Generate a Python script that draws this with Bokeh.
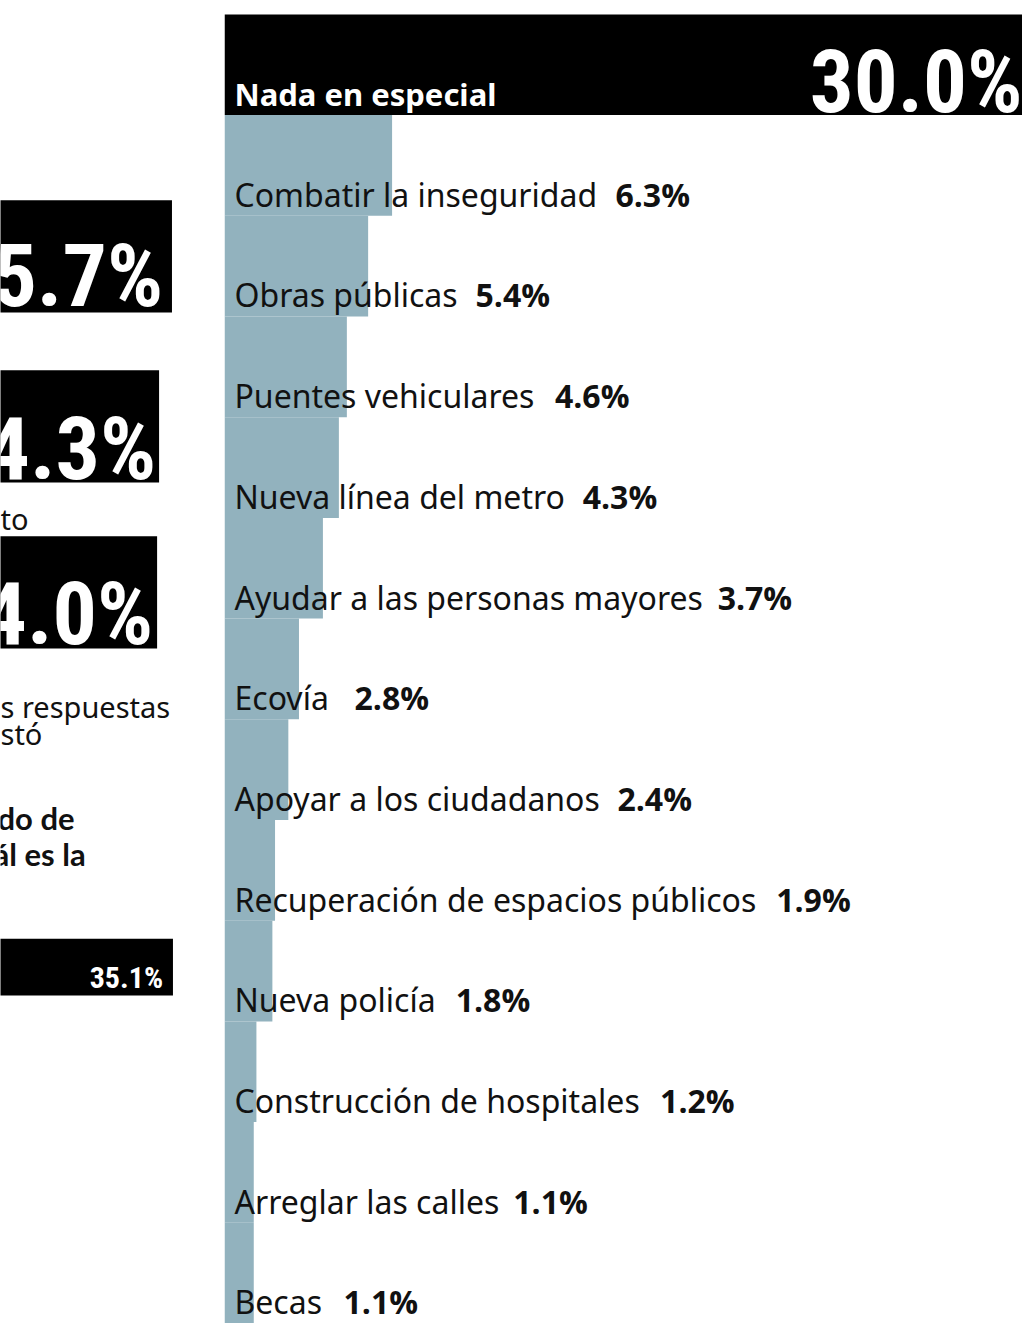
from bokeh.plotting import figure
from bokeh.layouts import row
from bokeh.models import Range1d, ColumnDataSource
from bokeh.core.properties import value
from bokeh.embed import file_html
from bokeh.resources import INLINE

# ---------------- data ----------------
labels = ["Nada en especial", "Combatir la inseguridad", "Obras públicas",
          "Puentes vehiculares", "Nueva línea del metro",
          "Ayudar a las personas mayores", "Ecovía", "Apoyar a los ciudadanos",
          "Recuperación de espacios públicos", "Nueva policía",
          "Construcción de hospitales", "Arreglar las calles", "Becas"]
values = [30.0, 6.3, 5.4, 4.6, 4.3, 3.7, 2.8, 2.4, 1.9, 1.8, 1.2, 1.1, 1.1]

# left (cropped) panel
left_numbers = ["45.7%", "44.3%", "44.0%"]
left_bar_label = ["35.1%"]
left_fragments_regular = ["to", "s respuestas", "stó"]
left_fragments_bold = ["do de", "ál es la"]

# ---------------- layout constants (reference pixels) ----------------
value_label_offset_px = [0, 394, 253, 333, 361, 497, 131, 396, 556, 233, 439, 291, 120]

SANS = "Noto Sans"
COND = "Roboto Condensed"
BAR = "#92b2be"

W, H = 1022, 1323
WL = 224
WR = W - WL
SX = W / 1030
BAND_TOP = 14 / 101.3

# ---------------- right figure ----------------
n = len(labels)
p = figure(width=WR, height=H, output_backend="svg", toolbar_location=None,
           x_range=Range1d(0, values[0]), y_range=Range1d(n, -BAND_TOP),
           min_border=0)
p.axis.visible = False
p.grid.visible = False
p.outline_line_color = None
p.background_fill_color = "white"

idx = list(range(n))
colors = ["black"] + [BAR] * (n - 1)
src = ColumnDataSource(dict(y=[i + 0.5 for i in idx], right=values, color=colors))
p.hbar(y="y", left=0, right="right", height=1.0, color="color", line_color=None, source=src)

rest = ColumnDataSource(dict(ty=[i + 0.915 for i in idx[1:]], label=labels[1:],
                             val=[f"{v:.1f}%" for v in values[1:]],
                             voff=[o * SX for o in value_label_offset_px[1:]]))
p.text(x=0, y="ty", text="label", source=rest, x_offset=10, y_offset=-13,
       text_font=value(SANS), text_font_size="32px", text_color="#111111",
       text_baseline="alphabetic")
p.text(x=0, y="ty", text="val", source=rest, x_offset="voff", y_offset=-13,
       text_font=value("Open Sans"), text_font_style="bold", text_font_size="32px",
       text_color="#111111", text_baseline="alphabetic")

p.text(x=[0], y=[0.92], text=[labels[0]], x_offset=10, y_offset=-13,
       text_font=value(SANS), text_font_style="bold", text_font_size="31px",
       text_color="white", text_baseline="alphabetic")
p.text(x=[values[0]], y=[0.93], text=[f"{values[0]:.1f}%"], x_offset=0, y_offset=-26,
       text_font=value(COND), text_font_style="bold",
       text_font_size="87px", text_color="white", text_align="right",
       text_baseline="alphabetic")

# ---------------- left (cropped) figure ----------------
q = figure(width=WL, height=H, output_backend="svg", toolbar_location=None,
           x_range=Range1d(0, 226), y_range=Range1d(1331, 0), min_border=0)
q.axis.visible = False
q.grid.visible = False
q.outline_line_color = None

box_right = [173, 160, 158]
box_top = [201, 372, 539]
box_h = 113
q.quad(left=-20, right=box_right, top=box_top, bottom=[t + box_h for t in box_top],
       color="black", line_color=None)
q.text(x=[164, 157, 154], y=[303, 477, 643], text=left_numbers,
       y_offset=-26, text_font=value(COND), text_font_style="bold",
       text_font_size="88px", text_color="white", text_align="right",
       text_baseline="alphabetic")

q.text(x=[0, 0, 0], y=[529, 718, 745], text=left_fragments_regular, y_offset=-8,
       text_font=value(SANS), text_font_size="29px", text_color="#111111",
       text_align="left", text_baseline="alphabetic")
q.text(x=[-3, -7], y=[830, 867], text=left_fragments_bold, y_offset=-8,
       text_font=value("Lato"), text_font_style="bold", text_font_size="31px",
       text_color="#111111", text_align="left", text_baseline="alphabetic")

q.quad(left=-20, right=[174], top=[944], bottom=[1001], color="black", line_color=None)
q.text(x=[164], y=[993], text=left_bar_label, y_offset=-10,
       text_font=value(COND), text_font_style="bold",
       text_font_size="30px", text_color="white", text_align="right",
       text_baseline="alphabetic")

layout = row(q, p)
open("out.html", "w").write(file_html(layout, INLINE))
